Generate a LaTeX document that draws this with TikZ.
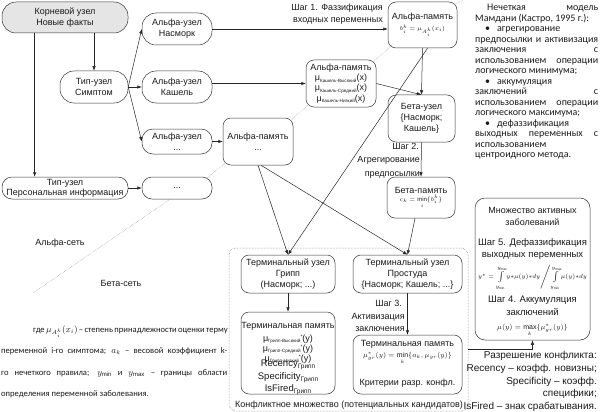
\documentclass[tikz,border=0pt]{standalone}
\usepackage{fontspec}
\setmainfont{Liberation Sans}
\newfontfamily\carl{Carlito}
\usetikzlibrary{arrows.meta,calc}
\newcommand{\lsub}[1]{\raisebox{-1.4pt}{\fontsize{4.6}{5}\selectfont #1}}
\newcommand{\lsup}{\raisebox{3pt}{\fontsize{5}{5}\selectfont *}}
\newcommand{\rsub}[1]{\raisebox{-2pt}{\fontsize{6.5}{7}\selectfont #1}}
\newcommand{\jl}[1]{\makebox[\linewidth][s]{#1}\\}
\begin{document}
\begin{tikzpicture}[x=1pt,y=-1pt,
  every node/.style={inner sep=0pt, text=black!90},
  nf/.style={font=\fontsize{9}{11}\selectfont},
  pill/.style={draw=black!80, line width=0.5pt, rounded corners=#1, align=center, nf},
  pill/.default=14pt,
  box/.style={draw=black!80, line width=0.5pt, rounded corners=8pt, align=center, nf},
  arr/.style={draw=black!85, line width=0.5pt, -{Latex[length=4.5pt,width=3.4pt]}},
  div/.style={draw=black!45, line width=0.45pt, densely dotted},
  lbl/.style={nf, anchor=base},
  lble/.style={nf, anchor=base east}]
\useasboundingbox (0,0) rectangle (600,412);

% conflict set
\node[draw=black!55, densely dotted, line width=0.5pt, rounded corners=7pt, minimum width=239pt, minimum height=163pt] (conf) at (348.5,329.5) {};
\node[lbl] (conflbl) at (349,407) {Конфликтное множество (потенциальных кандидатов)};

% alpha network
\node[pill, fill=black!10, minimum width=126pt, minimum height=31pt] (root) at (65,17.5) {Корневой узел\\Новые факты};
\node[pill, minimum width=70pt, minimum height=32pt] (nas) at (177,29) {Альфа-узел\\Насморк};
\node[pill, minimum width=68pt, minimum height=32pt] (simp) at (94,87) {Тип-узел\\Симптом};
\node[pill, minimum width=70pt, minimum height=32pt] (kash) at (177,87) {Альфа-узел\\Кашель};
\node[pill=11pt, minimum width=70pt, minimum height=25pt] (adots) at (177,141.5) {Альфа-узел\\...};
\node[pill=10pt, minimum width=126pt, minimum height=22pt, font=\fontsize{9}{10}\selectfont] (pers) at (65,188) {Тип-узел\\Персональная информация};
\node[pill=10pt, minimum width=70pt, minimum height=22pt] (pdots) at (177,188) {...};
\node[box, minimum width=70pt, minimum height=47pt] (memdots) at (258,141.5) {Альфа-память\\...};
\node[box, minimum width=70pt, minimum height=47pt, font=\fontsize{9}{10.3}\selectfont] (memK) at (341,83.5) {Альфа-память\\μ\lsub{Кашель-Высокий}(x)\\μ\lsub{Кашель-Средний}(x)\\μ\lsub{Кашель-Низкий}(x)};
\node[box, minimum width=69pt, minimum height=46pt] (memtop) at (422.5,25) {Альфа-память\\{\fontsize{6}{7}\selectfont $b_i^k=\mu_{A_i^k}(x_i)$}};

% beta network
\node[box, minimum width=67pt, minimum height=47pt] (beta) at (421.5,118.5) {Бета-узел\\\{Насморк;\\Кашель\}};
\node[box, minimum width=68pt, minimum height=41pt] (betamem) at (421,197.5) {Бета-память\\[-3pt]{\fontsize{6}{7}\selectfont $c_k=\min\limits_i\{b_i^k\}$}};
\node[box, minimum width=94pt, minimum height=38pt] (termG) at (288,274) {Терминальный узел\\Грипп\\(Насморк; ...)};
\node[box, minimum width=109pt, minimum height=38pt] (termP) at (407.5,274) {Терминальный узел\\Простуда\\\{Насморк; Кашель; ...\}};
\node[box, minimum width=94pt, minimum height=82pt] (tmemG) at (288,353) {};
\node[box, minimum width=109pt, minimum height=59pt] (tmemP) at (407.5,364.5) {};

\node[lbl] (tg0) at (288,328) {Терминальная память};
\node[lbl] (tg1) at (288,341) {μ\lsub{Грипп-Высокий}\lsup(y)};
\node[lbl] (tg2) at (288,351) {μ\lsub{Грипп-Средний}\lsup(y)};
\node[lbl] (tg3) at (288,361) {μ\lsub{Грипп-Низкий}\lsup(y)};
\node[lbl, font=\fontsize{9.5}{11}\selectfont] (tg4) at (288,366) {Recency\rsub{Грипп}};
\node[lbl, font=\fontsize{9.5}{11}\selectfont] (tg5) at (288,379) {Specificity\rsub{Грипп}};
\node[lbl, font=\fontsize{9.5}{11}\selectfont] (tg6) at (288,391) {IsFired\rsub{Грипп}};

\node[lbl] (tp0) at (407.5,346) {Терминальная память};
\node (tp1) at (407.5,358) {\fontsize{7}{8}\selectfont $\mu^*_{gr}(y)=\min\limits_k\{a_k,\mu_{gr}(y)\}$};
\node[lbl] (tp2) at (407.5,385) {Критерии разр. конфл.};

% active set
\node[box, rounded corners=10pt, minimum width=115pt, minimum height=142pt] (active) at (532.5,269) {};
\node[lbl] (a1) at (532.5,213) {Множество активных};
\node[lbl] (a2) at (532.5,225) {заболеваний};
\node[lbl, font=\fontsize{9.5}{11}\selectfont] (a3) at (532.5,245) {Шаг 5. Дефаззификация};
\node[lbl, font=\fontsize{9.5}{11}\selectfont] (a4) at (532.5,257) {выходных переменных};
\node (a5) at (532.5,278) {\fontsize{6.5}{7}\selectfont $y^*=\int\limits_{y_{\min}}^{y_{\max}}\!y{*}\mu(y){*}dy\Big/\!\int\limits_{y_{\min}}^{y_{\max}}\!\mu(y){*}dy$};
\node[lbl, font=\fontsize{9.5}{11}\selectfont] (a6) at (532.5,302) {Шаг 4. Аккумуляция};
\node[lbl, font=\fontsize{9.5}{11}\selectfont] (a7) at (532.5,315) {заключений};
\node (a8) at (532.5,330) {\fontsize{7}{8}\selectfont $\mu(y)=\max\limits_k\{\mu^*_{gr}(y)\}$};

% step labels
\node[lble] (s1a) at (383,11) {Шаг 1. Фаззификация};
\node[lble] (s1b) at (383,23) {входных переменных};
\node[lble] (s2a) at (419,149) {Шаг 2.};
\node[lble] (s2b) at (420,162) {Агрегирование};
\node[lble] (s2c) at (420,176) {предпосылки};
\node[lble] (s3a) at (402,306) {Шаг 3.};
\node[lble] (s3b) at (405,319) {Активизация};
\node[lble] (s3c) at (405,331) {заключения};
\node[lbl] (an) at (60,245) {Альфа-сеть};
\node[lbl] (bn) at (121,286) {Бета-сеть};

% resolution text
\node[lble, font=\fontsize{10}{12}\selectfont] (rz1) at (597,358) {Разрешение конфликта:};
\node[lble, font=\fontsize{10}{12}\selectfont] (rz2) at (597,371) {Recency – коэфф. новизны;};
\node[lble, font=\fontsize{10}{12}\selectfont] (rz3) at (597,384) {Specificity – коэфф.};
\node[lble, font=\fontsize{10}{12}\selectfont] (rz4) at (597,396) {специфики;};
\node[lble, font=\fontsize{10}{12}\selectfont] (rz5) at (597,409) {IsFired – знак срабатывания.};

% paragraphs
\node[anchor=base west] (mamd) at (475,11) {\parbox[t]{123pt}{\carl\fontsize{10}{10.5}\selectfont
\jl{\hspace*{12pt}Нечеткая модель}
Мамдани (Кастро, 1995 г.):\\
\hspace*{10pt}•\hspace{7pt}агрегирование\\
\jl{предпосылки и активизация}
\jl{заключения с}
\jl{использованием операции}
логического минимума;\\
\hspace*{10pt}•\hspace{7pt}аккумуляция\\
\jl{заключений с}
\jl{использованием операции}
логического максимума;\\
\hspace*{10pt}•\hspace{7pt}дефаззификация\\
\jl{выходных переменных с}
использованием\\
центроидного метода.}};

\node[anchor=base west] (gde) at (1,332) {\parbox[t]{226pt}{\carl\fontsize{8.6}{21.6}\selectfont
\jl{\hspace*{32pt}где $\mu_{A_i^k}(x_i)$ – степень принадлежности оценки терму}
\jl{переменной i-го симптома; $a_k$ – весовой коэффициент k-}
\jl{го нечеткого правила; $y_{\min}$ и $y_{\max}$ – границы области}
определения переменной заболевания.}};

% connectors
\coordinate (r1) at ($(root.south west)!0.26!(root.south east)$);
\draw[arr] (root.south -| simp.north) -- (simp.north);
\draw[arr] (r1) -- (r1 |- pers.north);
\draw[arr] (simp.east) -- (nas.west);
\draw[arr] (simp.east) -- (kash.west);
\draw[arr] (simp.east) -- (adots.west);
\draw[arr] (pers.east) -- (pdots.west);
\draw[arr] (nas.east) -- (nas.east -| memtop.west);
\draw[arr] (memK.west -| kash.east) -- (memK.west);
\draw[arr] (adots.east) -- (memdots.west);
\draw[arr] (memtop.south) -- (beta.north);
\draw[arr] (memK.east) -- (beta.north);
\draw[arr] ([xshift=5pt]memtop.south) -- (termG.north);
\draw[arr] (memdots.south) -- (termG.north);
\draw[arr] ([xshift=3pt]memdots.south) -- (termP.north);
\draw[arr] (beta.south) -- (betamem.north);
\draw[arr] ([xshift=-6pt]betamem.south) -- (termP.north);
\draw[arr] (termG.south) -- (tmemG.north);
\draw[arr] (termP.south) -- (tmemP.north);
\coordinate (cr) at (500,349);
\draw[arr] (cr -| conf.east) -| (active.south);

% alpha/beta divider
\coordinate (d0) at (463,0);
\coordinate (d1) at (33,293);
\draw[div] ([shift={(-3,3)}]memtop.north east) -- (d0);
\draw[div] ([shift={(4,-3)}]memtop.south west) -- ([shift={(-4,3)}]memK.north east);
\draw[div] ([shift={(3,-3)}]memK.south west) -- ([shift={(-3,3)}]memdots.north east);
\draw[div] ([shift={(3,-3)}]memdots.south west) -- ([shift={(-6,2)}]pdots.north east);
\draw[div] ([xshift=-7pt]pdots.south) -- (d1);
\end{tikzpicture}
\end{document}
